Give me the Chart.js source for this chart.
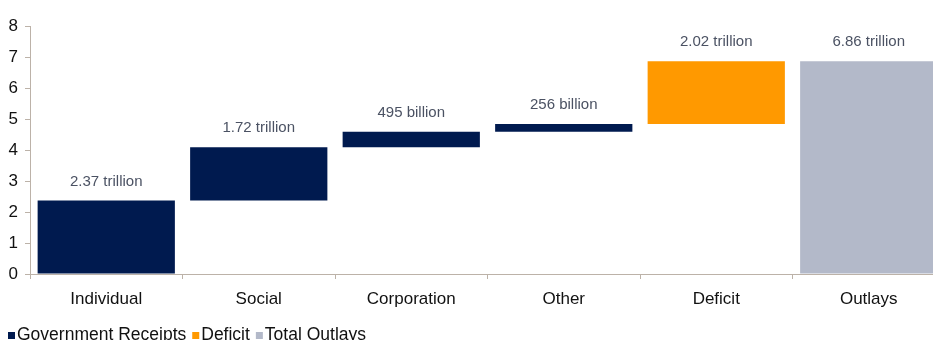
<!DOCTYPE html>
<html><head><meta charset="utf-8">
<script src="https://cdn.jsdelivr.net/npm/chart.js@4/dist/chart.umd.min.js"></script>
<style>
html,body{margin:0;padding:0;background:#fff;overflow:hidden;width:933px;height:340px}
#wrap{position:relative;width:933px;height:340px;overflow:hidden}
canvas{display:block}
</style></head><body>
<div id="wrap"><canvas id="c" width="945" height="340" style="width:945px;height:340px"></canvas></div>
<script>
const categories = ['Individual','Social','Corporation','Other','Deficit','Outlays'];
const receipts = [2.37, 1.72, 0.495, 0.256];   // trillions
const deficit = 2.02;
const outlays = 6.86;
const valueLabels = ['2.37 trillion','1.72 trillion','495 billion','256 billion','2.02 trillion','6.86 trillion'];
const yTicks = [0,1,2,3,4,5,6,7,8];
const legendLabels = ['Government Receipts','Deficit','Total Outlays'];

const NAVY = '#001A4F', ORANGE = '#FF9900', GREY = '#B3B9C9', AXIS = '#BCB2A8';
const FONT = "'Liberation Sans', Arial, sans-serif";

// waterfall ranges built from the values
let cum = 0;
const receiptRanges = categories.map(() => null);
receipts.forEach((v, i) => { receiptRanges[i] = [cum, cum + v]; cum += v; });
const deficitRanges = categories.map(() => null);
deficitRanges[4] = [cum, cum + deficit];
const outlayRanges = categories.map(() => null);
outlayRanges[5] = [0, outlays];

const labelPlugin = {
  id: 'vlabels',
  afterDatasetsDraw(chart) {
    const ctx = chart.ctx;
    ctx.save();
    ctx.font = "15px " + FONT;
    ctx.fillStyle = '#4B5263';
    ctx.textAlign = 'center';
    ctx.textBaseline = 'alphabetic';
    chart.data.datasets.forEach((ds, di) => {
      const meta = chart.getDatasetMeta(di);
      ds.data.forEach((d, i) => {
        if (!d) return;
        const el = meta.data[i];
        ctx.fillText(valueLabels[i], el.x, el.y - 15);
      });
    });
    ctx.restore();
  }
};

const legendPlugin = {
  id: 'customLegend',
  afterDraw(chart) {
    const ctx = chart.ctx;
    ctx.save();
    ctx.font = "17.5px " + FONT;
    ctx.textBaseline = 'alphabetic';
    ctx.textAlign = 'left';
    let x = 8;
    const colors = [NAVY, ORANGE, GREY];
    legendLabels.forEach((t, i) => {
      ctx.fillStyle = colors[i];
      ctx.fillRect(x, 332, 7, 7);
      ctx.fillStyle = '#111';
      ctx.fillText(t, x + 9, 340);
      x += 9 + ctx.measureText(t).width + 6;
    });
    ctx.restore();
  }
};

new Chart(document.getElementById('c'), {
  type: 'bar',
  data: {
    labels: categories,
    datasets: [
      { label: legendLabels[0], data: receiptRanges, backgroundColor: NAVY, grouped: false },
      { label: legendLabels[1], data: deficitRanges, backgroundColor: ORANGE, grouped: false },
      { label: legendLabels[2], data: outlayRanges, backgroundColor: GREY, grouped: false }
    ]
  },
  options: {
    responsive: false,
    animation: false,
    barPercentage: 0.9,
    categoryPercentage: 1,
    layout: { padding: { top: 26, left: 0, right: 0, bottom: 0 } },
    plugins: { legend: { display: false }, tooltip: { enabled: false } },
    scales: {
      x: {
        grid: { offset: true, drawOnChartArea: false, drawTicks: true, tickLength: 5, color: AXIS },
        border: { color: AXIS },
        ticks: { font: { size: 17, family: FONT }, color: '#111', padding: 10, maxRotation: 0 },
        afterFit(s) { s.height = 66; }
      },
      y: {
        min: 0, max: 8,
        afterBuildTicks(s) { s.ticks = yTicks.map(v => ({ value: v })); },
        grid: { drawOnChartArea: false, drawTicks: true, tickLength: 5, color: AXIS },
        border: { color: AXIS },
        ticks: { font: { size: 17, family: FONT }, color: '#111', padding: 7 },
        afterFit(s) { s.width = 30; }
      }
    }
  },
  plugins: [labelPlugin, legendPlugin]
});
</script>
</body></html>
